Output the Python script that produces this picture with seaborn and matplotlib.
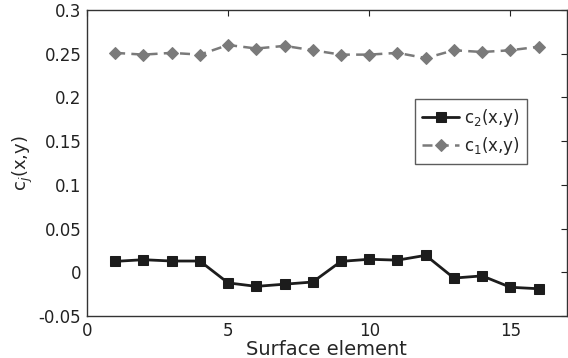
import matplotlib
matplotlib.use("Agg")
import matplotlib.pyplot as plt
import seaborn as sns
import pandas as pd

elements = list(range(1, 17))
c2_values = [0.0126, 0.0145, 0.013, 0.013, -0.012, -0.016, -0.0135, -0.011,
             0.0126, 0.015, 0.014, 0.0195, -0.0065, -0.004, -0.017, -0.0187]
c1_values = [0.251, 0.249, 0.251, 0.249, 0.260, 0.256, 0.259, 0.254,
             0.249, 0.249, 0.251, 0.245, 0.254, 0.252, 0.254, 0.258]
y_ticks = [-0.05, 0, 0.05, 0.1, 0.15, 0.2, 0.25, 0.3]
y_tick_labels = ["-0.05", "0", "0.05", "0.1", "0.15", "0.2", "0.25", "0.3"]
x_ticks = [0, 5, 10, 15]

sns.set_style("white")
plt.rcParams['font.family'] = ['DejaVu Sans']
plt.rcParams['mathtext.fontset'] = 'dejavusans'

df2 = pd.DataFrame({"x": elements, "y": c2_values})
df1 = pd.DataFrame({"x": elements, "y": c1_values})

fig = plt.figure(figsize=(5.68, 3.58), dpi=100)
ax = fig.add_axes([0.153, 0.117, 0.845, 0.855])

sns.lineplot(data=df2, x="x", y="y", ax=ax, color="#1c1c1c", linewidth=2.0,
             marker="s", markersize=7, markeredgecolor="#1c1c1c",
             label=r"c$_2$(x,y)")
sns.lineplot(data=df1, x="x", y="y", ax=ax, color="#7a7a7a", linewidth=1.8,
             linestyle=(0, (4, 2.5)), marker="D", markersize=6,
             markeredgecolor="#7a7a7a", label=r"c$_1$(x,y)")

ax.set_xlim(0, 17)
ax.set_ylim(-0.05, 0.3)
ax.set_xticks(x_ticks)
ax.set_yticks(y_ticks)
ax.set_yticklabels(y_tick_labels)
ax.tick_params(direction="in", top=True, right=True, length=4, labelsize=12,
               colors="#222222", width=0.8, pad=4)
for s in ax.spines.values():
    s.set_color("#333333")
    s.set_linewidth(1.0)
ax.set_xlabel("Surface element", fontsize=14, labelpad=0)
ax.set_ylabel(r"c$_j$(x,y)", fontsize=13, labelpad=3)

leg = ax.legend(loc="upper right", bbox_to_anchor=(0.935, 0.735), fontsize=12,
                frameon=True, fancybox=False, edgecolor="#333333",
                handlelength=2.2, borderpad=0.45, labelspacing=0.35,
                handletextpad=0.3)
leg.get_frame().set_linewidth(1.0)

fig.savefig("out.png", dpi=100)
